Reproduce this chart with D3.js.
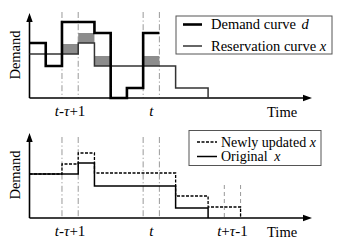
<!DOCTYPE html>
<html>
<head>
<meta charset="utf-8">
<script src="https://cdn.jsdelivr.net/npm/d3@7"></script>
<style>
  body { margin: 0; background: #fff; }
</style>
</head>
<body>
<div id="chart"></div>
<script>
// time slots (slot index) and step heights
var demandSteps = [[0, 1, 55], [1, 2, 32], [2, 4, 76], [4, 5, 65], [5, 6, 0], [6, 7, 10], [7, 8, 65]];
var reserveSteps = [[0, 3, 44], [3, 4, 55], [4, 9, 32], [9, 11, 10]];
var updatedSteps = [[0, 2, 44], [2, 3, 54], [3, 4, 65], [4, 9, 45], [9, 11, 22], [11, 13, 11]];
// shaded blocks on top of reservation curve: [slot, bottom, top]
var shaded = [[2, 44, 54], [3, 55, 65], [4, 32, 42], [7, 32, 42]];
var guideTop = [2, 3, 7, 8];
var guideBottom = [2, 3, 7, 8];
var guideEnd = [12, 13];

var width = 357, height = 245;
var serif = "'Liberation Serif', 'Times New Roman', Times, serif";

var svg = d3.select("#chart").append("svg")
    .attr("width", width)
    .attr("height", height)
    .attr("font-family", serif);

var x = d3.scaleLinear().domain([0, 17.4]).range([29.5, 312]);
var yTop = d3.scaleLinear().domain([0, 85]).range([98, 13]);
var yBot = d3.scaleLinear().domain([0, 85]).range([218, 133]);

// turn step list into a path (close down to 0 at the end if asked)
function stepPath(steps, y, dropEnd) {
  var p = d3.path();
  steps.forEach(function(s, i) {
    if (i == 0) p.moveTo(x(s[0]), y(s[2]));
    else p.lineTo(x(s[0]), y(s[2]));
    p.lineTo(x(s[1]), y(s[2]));
  });
  if (dropEnd) p.lineTo(x(steps[steps.length - 1][1]), y(0));
  return p.toString();
}

function axes(y) {
  svg.append("line")
    .attr("x1", x(0)).attr("x2", x(17.4) - 6)
    .attr("y1", y(0)).attr("y2", y(0))
    .attr("stroke", "#000").attr("stroke-width", 1.6);
  svg.append("line")
    .attr("x1", x(0)).attr("x2", x(0))
    .attr("y1", y(0)).attr("y2", y(85) + 6)
    .attr("stroke", "#000").attr("stroke-width", 1.6);
  // arrow heads
  svg.append("path")
    .attr("d", "M" + x(17.4) + "," + y(0) + "l-9,-3.2l0,6.4z")
    .attr("fill", "#000");
  svg.append("path")
    .attr("d", "M" + x(0) + "," + y(85) + "l-3.2,9l6.4,0z")
    .attr("fill", "#000");
  svg.append("text")
    .attr("transform", "translate(20," + y(43) + ") rotate(-90)")
    .attr("text-anchor", "middle")
    .attr("font-size", 14.5)
    .text("Demand");
  svg.append("text")
    .attr("x", 267).attr("y", y(0) + 19)
    .attr("font-size", 14.5)
    .text("Time");
}

function guides(slots, y0, y1, dash) {
  svg.append("g").selectAll("line")
    .data(slots)
    .enter()
    .append("line")
      .attr("x1", function(d) { return x(d); })
      .attr("x2", function(d) { return x(d); })
      .attr("y1", y0).attr("y2", y1)
      .attr("stroke", "#999")
      .attr("stroke-width", 1)
      .attr("stroke-dasharray", dash);
}

function slotLabel(slot, y, parts) {
  var t = svg.append("text")
    .attr("x", x(slot)).attr("y", y)
    .attr("text-anchor", "middle")
    .attr("font-size", 15);
  parts.forEach(function(p) {
    t.append("tspan").attr("font-style", p[1] ? "italic" : "normal").text(p[0]);
  });
}

// ---------- top panel ----------
guides(guideTop, 12, 98, "6,2.5,1.2,2.5");

svg.append("g").selectAll("rect")
  .data(shaded)
  .enter()
  .append("rect")
    .attr("x", function(d) { return x(d[0]); })
    .attr("width", x(1) - x(0))
    .attr("y", function(d) { return yTop(d[2]); })
    .attr("height", function(d) { return yTop(d[1]) - yTop(d[2]); })
    .attr("fill", "#8c8c8c");

axes(yTop);

svg.append("path")
  .attr("d", stepPath(reserveSteps, yTop, true))
  .attr("fill", "none").attr("stroke", "#333").attr("stroke-width", 1.5);

svg.append("path")
  .attr("d", stepPath(demandSteps, yTop, false))
  .attr("fill", "none").attr("stroke", "#000").attr("stroke-width", 2.6);

slotLabel(2.5, 116, [["t", true], ["-", false], ["τ", true], ["+1", false]]);
slotLabel(7.5, 116, [["t", true]]);

// legend top
var lg = svg.append("g");
lg.append("rect").attr("x", 176).attr("y", 16).attr("width", 156).attr("height", 38)
  .attr("fill", "#fff").attr("stroke", "#555").attr("stroke-width", 1);
lg.append("line").attr("x1", 183).attr("x2", 202).attr("y1", 24.5).attr("y2", 24.5)
  .attr("stroke", "#000").attr("stroke-width", 2.6);
lg.append("line").attr("x1", 183).attr("x2", 202).attr("y1", 46).attr("y2", 46)
  .attr("stroke", "#333").attr("stroke-width", 1.5);
var l1 = lg.append("text").attr("x", 211).attr("y", 29.3).attr("font-size", 14.5);
l1.append("tspan").text("Demand curve ");
l1.append("tspan").attr("font-style", "italic").attr("dx", 2).text("d");
var l2 = lg.append("text").attr("x", 211).attr("y", 50.5).attr("font-size", 14.5);
l2.append("tspan").text("Reservation curve ");
l2.append("tspan").attr("font-style", "italic").text("x");

// ---------- bottom panel ----------
guides(guideBottom, 137, 218, "6,2.5,1.2,2.5");
guides(guideEnd, 185, 218, "4,3");

axes(yBot);

svg.append("path")
  .attr("d", stepPath(reserveSteps, yBot, true))
  .attr("fill", "none").attr("stroke", "#000").attr("stroke-width", 1.5);

svg.append("path")
  .attr("d", stepPath(updatedSteps, yBot, true))
  .attr("fill", "none").attr("stroke", "#000").attr("stroke-width", 1.3)
  .attr("stroke-dasharray", "3,1.5");

slotLabel(2.5, 236, [["t", true], ["-", false], ["τ", true], ["+1", false]]);
slotLabel(7.5, 236, [["t", true]]);
slotLabel(12.5, 236, [["t", true], ["+", false], ["τ", true], ["-1", false]]);

var lb = svg.append("g");
lb.append("rect").attr("x", 189).attr("y", 130.5).attr("width", 132).attr("height", 35)
  .attr("fill", "#fff").attr("stroke", "#555").attr("stroke-width", 1);
lb.append("line").attr("x1", 197).attr("x2", 217).attr("y1", 142).attr("y2", 142)
  .attr("stroke", "#000").attr("stroke-width", 1.3).attr("stroke-dasharray", "3,1.5");
lb.append("line").attr("x1", 197).attr("x2", 217).attr("y1", 156.5).attr("y2", 156.5)
  .attr("stroke", "#000").attr("stroke-width", 1.5);
var l3 = lb.append("text").attr("x", 221).attr("y", 146.5).attr("font-size", 14);
l3.append("tspan").text("Newly updated ");
l3.append("tspan").attr("font-style", "italic").text("x");
var l4 = lb.append("text").attr("x", 221).attr("y", 161).attr("font-size", 14);
l4.append("tspan").text("Original ");
l4.append("tspan").attr("font-style", "italic").attr("dx", 3).text("x");
</script>
</body>
</html>
